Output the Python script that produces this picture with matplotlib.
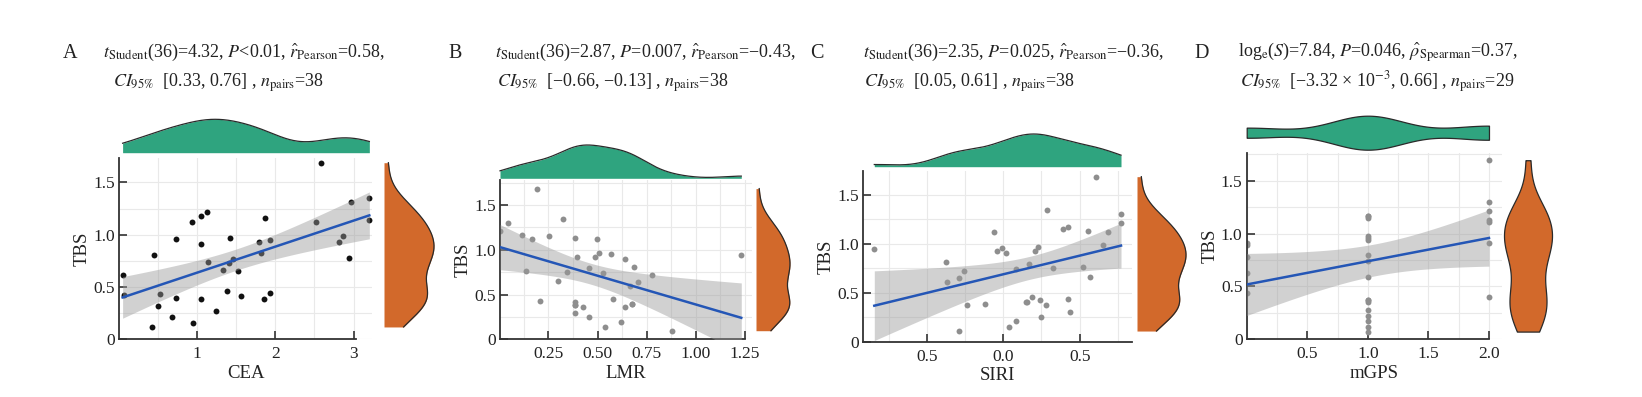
import numpy as np
import matplotlib
matplotlib.use('Agg')
import matplotlib.pyplot as plt
from matplotlib.ticker import FixedLocator, FixedFormatter, MultipleLocator

plt.rcParams['font.family'] = ['Liberation Serif', 'DejaVu Serif']
plt.rcParams['mathtext.fontset'] = 'stix'

# ---- data ----
cea = [0.055, 0.072, 0.455, 0.51, 0.53, 0.43, 0.69, 0.73, 0.74, 0.94, 0.95, 1.055, 1.055,
       1.055, 1.136, 1.145, 1.24, 1.33, 1.39, 1.42, 1.41, 1.46, 1.52, 1.57, 1.79, 1.82, 1.86,
       1.87, 1.94, 1.94, 2.52, 2.59, 2.81, 2.87, 2.94, 2.97, 3.2, 3.2]
tbs_a = [0.618, 0.42, 0.806, 0.318, 0.436, 0.118, 0.217, 0.395, 0.962, 1.124, 0.159, 1.18, 0.91,
         0.389, 1.22, 0.742, 0.268, 0.666, 0.465, 0.971, 0.732, 0.768, 0.656, 0.417, 0.933, 0.822,
         0.385, 1.162, 0.952, 0.446, 1.121, 1.688, 0.93, 0.99, 0.774, 1.309, 1.35, 1.137]

lmr = [0.004, 0.047, 0.114, 0.136, 0.166, 0.194, 0.206, 0.255, 0.298, 0.326, 0.347, 0.386, 0.386,
       0.386, 0.386, 0.386, 0.396, 0.428, 0.457, 0.457, 0.487, 0.496, 0.508, 0.530, 0.538, 0.567,
       0.577, 0.618, 0.638, 0.638, 0.665, 0.677, 0.677, 0.687, 0.707, 0.779, 0.88, 1.231]
tbs_b = [1.212, 1.305, 1.171, 0.762, 1.117, 1.684, 0.431, 1.158, 0.651, 1.347, 0.752, 1.135, 0.417,
         0.38, 0.38, 0.297, 0.923, 0.364, 0.793, 0.246, 0.923, 1.117, 0.968, 0.737, 0.134, 0.953,
         0.45, 0.197, 0.90, 0.364, 0.596, 0.394, 0.394, 0.811, 0.644, 0.722, 0.096, 0.942]

siri = [-0.845, -0.378, -0.367, -0.288, -0.258, -0.288, -0.238, -0.12, -0.061, -0.039, -0.009,
        0.02, 0.081, 0.037, 0.081, 0.148, 0.157, 0.168, 0.188, 0.207, 0.227, 0.238, 0.249, 0.277,
        0.288, 0.328, 0.389, 0.426, 0.426, 0.437, 0.524, 0.555, 0.566, 0.605, 0.655, 0.683,
        0.771, 0.771]
tbs_c = [0.948, 0.818, 0.607, 0.648, 0.726, 0.109, 0.378, 0.389, 1.118, 0.927, 0.961, 0.907, 0.74,
         0.147, 0.208, 0.406, 0.406, 0.798, 0.46, 0.924, 0.965, 0.426, 0.256, 0.378, 1.35, 0.757,
         1.155, 1.176, 0.436, 0.307, 0.767, 1.135, 0.658, 1.687, 0.988, 1.118, 1.305, 1.217]

mgps = [0, 0, 0, 0, 0,
        1, 1, 1, 1, 1, 1, 1, 1, 1, 1, 1, 1, 1, 1, 1, 1, 1,
        2, 2, 2, 2, 2, 2, 2]
tbs_d = [0.909, 0.894, 0.783, 0.625, 0.436,
         1.168, 1.168, 1.153, 0.979, 0.963, 0.941, 0.80, 0.745, 0.587, 0.373, 0.373, 0.35, 0.278,
         0.224, 0.174, 0.114, 0.073,
         1.696, 1.304, 1.216, 1.13, 1.108, 0.916, 0.398]

letters = ['A', 'B', 'C', 'D']
xlabels = ['CEA', 'LMR', 'SIRI', 'mGPS']
stat_line1 = [
    r"$t_{\mathrm{Student}}$(36)=4.32, $P$<0.01, $\hat{r}_{\mathrm{Pearson}}$=0.58,",
    r"$t_{\mathrm{Student}}$(36)=2.87, $P$=0.007, $\hat{r}_{\mathrm{Pearson}}$=−0.43,",
    r"$t_{\mathrm{Student}}$(36)=2.35, $P$=0.025, $\hat{r}_{\mathrm{Pearson}}$=−0.36,",
    r"log$_{\mathrm{e}}$($S$)=7.84, $P$=0.046, $\hat{\rho}_{\mathrm{Spearman}}$=0.37,",
]
stat_line2 = [
    r"$CI_{\mathrm{95\%}}$  [0.33, 0.76] , $n_{\mathrm{pairs}}$=38",
    r"$CI_{\mathrm{95\%}}$  [−0.66, −0.13] , $n_{\mathrm{pairs}}$=38",
    r"$CI_{\mathrm{95\%}}$  [0.05, 0.61] , $n_{\mathrm{pairs}}$=38",
    r"$CI_{\mathrm{95\%}}$  [−3.32 × 10$^{-3}$, 0.66] , $n_{\mathrm{pairs}}$=29",
]
xtick_vals = [[1, 2, 3], [0.25, 0.5, 0.75, 1.0, 1.25], [-0.5, 0.0, 0.5], [0.5, 1.0, 1.5, 2.0]]
xtick_text = [['1', '2', '3'], ['0.25', '0.50', '0.75', '1.00', '1.25'],
              ['0.5', '0.0', '0.5'], ['0.5', '1.0', '1.5', '2.0']]
ytick_vals = [0, 0.5, 1.0, 1.5]
ytick_text = ['0', '0.5', '1.0', '1.5']
t975 = [2.028, 2.028, 2.028, 2.052]

GREEN = '#2fa47f'
ORANGE = '#d2692b'
BLUE = '#2456b6'
W, H = 1642, 397

# layout in pixels: main box (l, t, r, b), limits, marginals
layout = [
    dict(box=(119, 158, 372, 339.3), xlim=(0.009, 3.234), ylim=(0, 1.733), xminor=0.5,
         spine_end=3.03, top=(152.7, 119.3), right=(384, 434), kind='density', pt='#111111'),
    dict(box=(500, 180, 751.7, 339.3), xlim=(0.004, 1.284), ylim=(0, 1.78), xminor=0.125,
         spine_end=1.25, top=(178.3, 145), right=(756, 790), kind='density', pt='#8e8e8e'),
    dict(box=(863.3, 171, 1132, 341.7), xlim=(-0.917, 0.843), ylim=(0, 1.745), xminor=0.25,
         spine_end=0.843, top=(166.7, 134), right=(1137, 1186), kind='density', pt='#8e8e8e'),
    dict(box=(1246.7, 152.7, 1501.7, 339.3), xlim=(0.0, 2.105), ylim=(0, 1.767), xminor=0.25,
         spine_end=2.0, top=(132.7, 17), right=(1528, 24), kind='violin', pt='#8e8e8e'),
]
text_x = [(70, 103.3, 113.3), (455, 495, 496.7), (817, 863.3, 864), (1202, 1238, 1240)]


def px(l, t, r, b):
    return [l / W, 1 - b / H, (r - l) / W, (b - t) / H]


def kde(v, grid):
    v = np.asarray(v, float)
    n = len(v)
    hi = v.std(ddof=1)
    q75, q25 = np.percentile(v, [75, 25])
    lo = min(hi, (q75 - q25) / 1.34) or hi
    bw = 0.9 * lo * n ** -0.2
    z = (grid[:, None] - v[None, :]) / bw
    return np.exp(-0.5 * z ** 2).sum(1) / (n * bw * np.sqrt(2 * np.pi))


def lm_band(x, y, tcrit, grid):
    x = np.asarray(x, float)
    y = np.asarray(y, float)
    n = len(x)
    b, a = np.polyfit(x, y, 1)
    fit = a + b * grid
    res = y - (a + b * x)
    s = np.sqrt((res ** 2).sum() / (n - 2))
    sxx = ((x - x.mean()) ** 2).sum()
    se = s * np.sqrt(1 / n + (grid - x.mean()) ** 2 / sxx)
    return fit, fit - tcrit * se, fit + tcrit * se


fig = plt.figure(figsize=(W / 100, H / 100), dpi=100)

panels = [(cea, tbs_a), (lmr, tbs_b), (siri, tbs_c), (mgps, tbs_d)]
for i, (xv, yv) in enumerate(panels):
    L = layout[i]
    l, t, r, b = L['box']
    ax = fig.add_axes(px(l, t, r, b))
    ax.set_xlim(L['xlim'])
    ax.set_ylim(L['ylim'])
    ax.xaxis.set_major_locator(FixedLocator(xtick_vals[i]))
    ax.xaxis.set_major_formatter(FixedFormatter(xtick_text[i]))
    ax.yaxis.set_major_locator(FixedLocator(ytick_vals))
    ax.yaxis.set_major_formatter(FixedFormatter(ytick_text))
    ax.xaxis.set_minor_locator(MultipleLocator(L['xminor']))
    ax.yaxis.set_minor_locator(MultipleLocator(0.25))
    ax.grid(which='both', color='#e9e9e9', lw=0.8)
    ax.set_axisbelow(True)
    ax.tick_params(which='major', direction='in', length=6, width=1.2, color='#333333',
                   labelsize=12.5, labelcolor='#222222')
    ax.tick_params(axis='x', pad=5)
    ax.tick_params(axis='y', pad=3)
    ax.tick_params(which='minor', length=0)
    for s in ('top', 'right'):
        ax.spines[s].set_visible(False)
    for s in ('left', 'bottom'):
        ax.spines[s].set_linewidth(1.3)
        ax.spines[s].set_color('#333333')
    ax.spines['bottom'].set_bounds(L['xlim'][0], L['spine_end'])
    ax.set_xlabel(xlabels[i], fontsize=13.5, color='#222222', labelpad=2)
    ax.set_ylabel('TBS', fontsize=13.5, color='#222222', labelpad=2)

    g = np.linspace(min(xv), max(xv), 200)
    fit, lo, hi = lm_band(xv, yv, t975[i], g)
    ax.scatter(xv, yv, s=18, c=L['pt'], linewidths=0, zorder=2)
    ax.fill_between(g, lo, hi, color='#9a9a9a', alpha=0.45, lw=0, zorder=3)
    ax.plot(g, fit, color=BLUE, lw=1.8, zorder=4)

    gx = np.linspace(min(xv), max(xv), 300)
    dx = kde(xv, gx)
    gy = np.linspace(min(yv), max(yv), 300)
    dy = kde(yv, gy)
    if L['kind'] == 'density':
        base, peak = L['top']
        axt = fig.add_axes(px(l, peak, r, base))
        axt.set_xlim(L['xlim'])
        axt.set_ylim(0, dx.max())
        axt.fill_between(gx, 0, dx, color=GREEN, lw=0)
        axt.plot(gx, dx, color='#2a2a2a', lw=0.9, clip_on=False)
        axt.axis('off')

        rb, rp = L['right']
        axr = fig.add_axes(px(rb, t, rp, b))
        axr.set_ylim(L['ylim'])
        axr.set_xlim(0, dy.max())
        axr.fill_betweenx(gy, 0, dy, color=ORANGE, lw=0)
        axr.plot(dy, gy, color='#2a2a2a', lw=0.9, clip_on=False)
        axr.axis('off')
    else:
        cy, half = L['top']
        axt = fig.add_axes(px(l, cy - half, r, cy + half))
        axt.set_xlim(L['xlim'])
        axt.set_ylim(-dx.max(), dx.max())
        axt.fill_between(gx, -dx, dx, facecolor=GREEN, edgecolor='#2a2a2a', lw=0.9, clip_on=False)
        axt.axis('off')

        cx, half = L['right']
        axr = fig.add_axes(px(cx - half, t, cx + half, b))
        axr.set_ylim(L['ylim'])
        axr.set_xlim(-dy.max(), dy.max())
        axr.fill_betweenx(gy, -dy, dy, facecolor=ORANGE, edgecolor='#2a2a2a', lw=0.9, clip_on=False)
        axr.axis('off')

    lx, t1x, t2x = text_x[i]
    fig.text(lx / W, 1 - 54 / H, letters[i], fontsize=14.5, ha='center', va='center', color='#222222')
    fig.text(t1x / W, 1 - 56.7 / H, stat_line1[i], fontsize=13, ha='left', va='baseline',
             color='#222222')
    fig.text(t2x / W, 1 - 86.7 / H, stat_line2[i], fontsize=13, ha='left', va='baseline',
             color='#222222')

fig.savefig('out.png', dpi=100)
